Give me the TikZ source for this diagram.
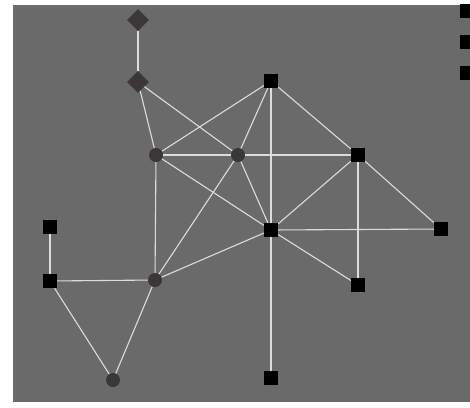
\documentclass[tikz,border=0pt]{standalone}
\usetikzlibrary{positioning,shapes.geometric}

\definecolor{panel}{HTML}{6A6A6A}
\definecolor{linkgray}{HTML}{DCDCDC}
\definecolor{dotgray}{HTML}{3B3737}

\tikzset{
  hub/.style={circle,fill=dotgray,minimum size=14pt,inner sep=0pt},
  leaf/.style={rectangle,fill=black,minimum size=14pt,inner sep=0pt},
  gate/.style={diamond,fill=dotgray,minimum size=22pt,inner sep=0pt},
  link/.style={draw=linkgray,line width=1.1pt}
}

\begin{document}
\begin{tikzpicture}[x=1pt,y=-1pt,on grid]

  \useasboundingbox (0,0) rectangle (470,407);
  \clip (0,0) rectangle (470,407);
  \fill[white] (0,0) rectangle (470,407);
  \fill[panel] (13,5) rectangle (472,402);

  \node[gate] (d_1) at (138,20) {};
  \node[gate] (d_2) [below=62pt of d_1] {};
  \node[leaf] (a) at (271,81) {};
  \node[hub] (c_1) at (156,155) {};
  \node[hub] (c_2) [right=82pt of c_1] {};
  \node[leaf] (b) at (358,155) {};
  \node[leaf] (e) [below=149pt of a] {};
  \node[leaf] (f) at (441,229) {};
  \node[leaf] (g) at (50,227) {};
  \node[leaf] (h) [below=54pt of g] {};
  \node[hub] (c_3) at (155,280) {};
  \node[leaf] (i) [below=130pt of b] {};
  \node[hub] (c_4) at (113,380) {};
  \node[leaf] (j) [below=148pt of e] {};

  % squares cut by the right edge
  \node[leaf] (k_1) at (467,11) {};
  \node[leaf] (k_2) [below=31pt of k_1] {};
  \node[leaf] (k_3) [below=31pt of k_2] {};

  \path[link]
    (d_1) edge (d_2)
    (d_2) edge (c_1)
    (d_2) edge (c_2)
    (c_1) edge (c_2)
    (c_2) edge (b)
    (c_1) edge (a)
    (c_2) edge (a)
    (c_1) edge (e)
    (c_2) edge (e)
    (a) edge (e)
    (a) edge (b)
    (b) edge (e)
    (b) edge (i)
    (b) edge (f)
    (e) edge (f)
    (e) edge (i)
    (e) edge (j)
    (c_1) edge (c_3)
    (c_3) edge (c_2)
    (c_3) edge (e)
    (g) edge (h)
    (h) edge (c_3)
    (h) edge (c_4)
    (c_3) edge (c_4);

\end{tikzpicture}
\end{document}
